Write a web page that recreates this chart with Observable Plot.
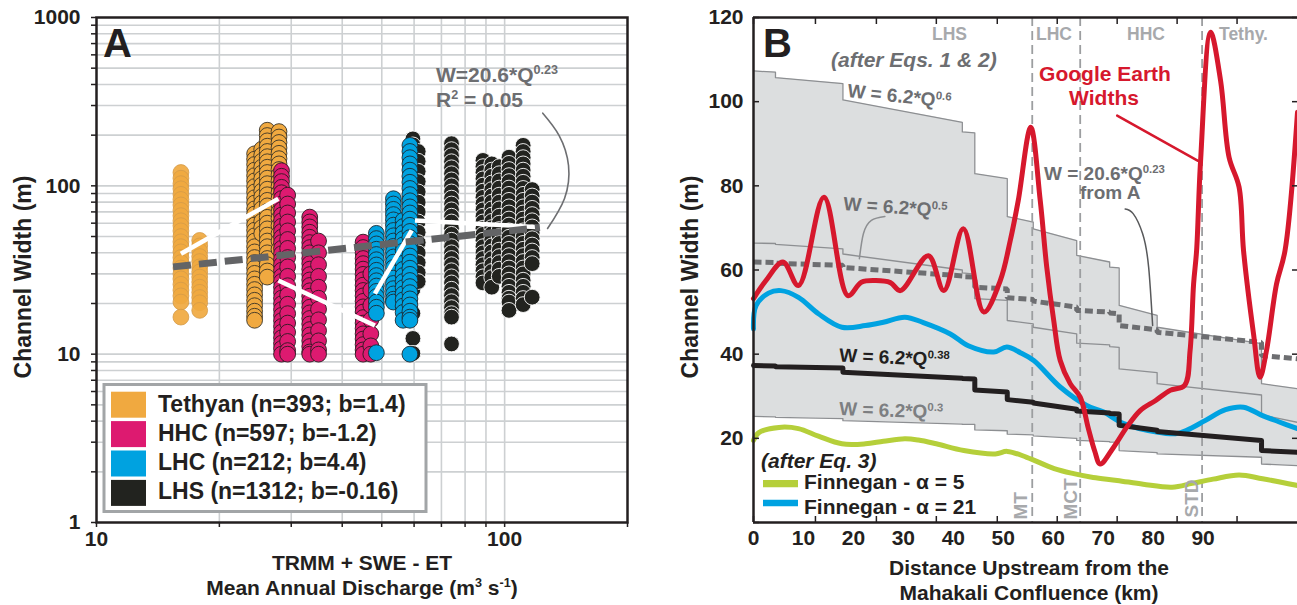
<!DOCTYPE html>
<html><head><meta charset="utf-8">
<script src="https://cdn.jsdelivr.net/npm/d3@7"></script>
<script src="https://cdn.jsdelivr.net/npm/@observablehq/plot@0.6"></script>
<style>
html,body{margin:0;padding:0;background:#fff;}
#wrap{position:relative;width:1297px;height:605px;overflow:hidden;background:#fff;}
#wrap > svg{position:absolute;top:0;margin:0;}
</style></head>
<body><div id="wrap"></div>
<script>
const FONT = '"Liberation Sans", Arial, Helvetica, sans-serif';
const INK = "#231f20";

// ================= Panel A data =================
const groupNames = ["Tethyan", "HHC", "LHC", "LHS"];
const groupN = [393, 597, 212, 1312];
const groupB = ["1.4", "-1.2", "4.4", "-0.16"];
const groupColors = ["#f0a940", "#dd1a70", "#00a2e0", "#22231f"];

// columns: [discharge Q (m3/s), [channel widths W (m)]]
const tethyanPaleCols = [
  [16.1, [120, 111, 103, 96, 89, 83, 77, 71.5, 66.5, 62, 58, 54, 50, 46.5, 43.5, 40.5, 37.5, 35, 32.5, 30, 28, 26, 24, 22.2, 20.4, 16.6]],
  [17.9, [47.4, 44, 41, 38, 35.5, 33, 30.8, 28.7, 26.8, 25, 23.3, 21.7, 20.2, 18.2]]
];
const tethyanCols = [
  [24.4, [155, 144, 134, 124, 115, 107, 99, 92, 85, 79, 73, 68, 63, 58.5, 54.5, 50.5, 47, 43.5, 40.5, 37.5, 35, 32.5, 30.2, 28, 26, 24.2, 22.5, 20.9, 19.4, 18, 16.8, 15.9]],
  [25.4, [165, 152, 140, 129, 119, 110, 101, 93, 86, 79, 73, 67, 61.5, 56.5, 52]],
  [26.2, [214, 199, 185, 172, 160, 149, 139, 129, 120, 111, 103, 95.5, 88.5, 82, 76, 70.5, 65, 60, 55.5, 51, 47, 43.5, 40, 37, 34, 31.2, 28.7]],
  [28.0, [210, 195, 181, 168, 156, 145, 135, 125, 116, 107, 99, 91, 84, 77, 70, 64, 58, 52, 47, 42]]
];
const hhcCols = [
  [28.4, [123, 114, 106, 98, 91, 84, 78, 72, 67, 62, 57.5, 53.5, 49.5, 46, 42.5, 39.5, 36.5, 34, 31.5, 29, 27, 25, 23.2, 21.5, 19.9, 18.4, 17, 15.8, 14.6, 13.5, 12.5, 11.6, 10.8, 10]],
  [29.4, [88, 78, 69, 61, 54, 48, 42.5, 37.5, 33, 29, 25.5, 22.5, 19.8, 17.4, 15.3, 13.5, 11.9, 10.5, 10]],
  [33.3, [65.2, 61, 57, 53, 49.5, 46, 43, 40, 37, 34.5, 32, 29.7, 27.6, 25.6, 23.8, 22.1, 20.5, 19, 17.6, 16.3, 15.1, 14, 13, 12, 11.1, 10.3, 10]],
  [35.0, [47, 40, 34, 29, 25, 21.5, 18.5, 16, 13.8, 12, 10.6, 10]],
  [45.0, [46.3, 43, 40, 37, 34.5, 32, 29.8, 27.7, 25.7, 23.9, 22.2, 20.6, 19.1, 17.8, 16.5, 15.3, 14.2, 13.2, 12.3, 11.4, 10.6, 10]],
  [47.0, [30, 24, 19.5, 16, 13.2, 11.2, 10]]
];
const lhcCols = [
  [48.5, [52.2, 48.6, 45.2, 42, 39.1, 36.4, 33.9, 31.5, 29.3, 27.3, 25.4, 23.6, 22, 20.4, 19, 17.5, 10.2]],
  [53.4, [83.8, 78, 72.5, 67.5, 62.8, 58.4, 54.3, 50.5, 47, 43.7, 40.6, 37.8, 35.2, 32.7, 30.4, 28.3, 26.3, 24.5, 22.8, 21.2, 20.4]],
  [56.4, [62.3, 57.3, 52.7, 48.5, 44.6, 41, 37.7, 34.7, 31.9, 29.3, 27, 24.8, 22.8, 21, 19.3, 17.7, 15.9]],
  [58.6, [174, 160, 147, 135, 124, 114, 105, 96.5, 88.7, 81.5, 75, 69, 63.4, 58.3, 53.6, 49.3, 45.3, 41.7, 38.3, 35.2, 32.4, 29.8, 27.4, 25.2, 23.2, 21.3, 19.6, 18, 16.6, 15.9, 10]]
];
const lhsCols = [
  [59.6, [190, 175, 161, 148, 136, 125, 115, 106, 98, 90, 83, 76, 70, 64.5, 59.5, 55, 50.5, 46.5, 43, 39.5, 36.5, 33.5, 31, 28.5, 26.3, 24.2, 17.5, 12.4, 10.1]],
  [61.4, [160, 140, 122, 106, 92, 80, 70, 61, 53, 46, 40, 35, 30.5, 27]],
  [74.1, [178, 164, 151, 139, 128, 118, 108.5, 100, 92, 84.5, 78, 72, 66, 61, 56, 51.5, 47.5, 43.5, 40, 37, 34, 31.3, 28.8, 26.5, 24.3, 22.3, 20.5, 18.9, 17.4, 16.6, 11.5]],
  [88.5, [141.6, 130, 120, 110, 101, 93, 85.5, 78.5, 72, 66, 61, 56, 51.5, 47.5, 43.5, 40, 37, 34, 31.3, 28.8, 26.5]],
  [93.0, [135, 124, 114, 104, 95, 87, 80, 73, 67, 61.5, 56.5, 52, 48, 44, 40.5, 37, 34, 31, 28.5, 25]],
  [97.0, [130, 118, 107, 97, 88, 80, 73, 66, 60, 55, 50, 45.5, 41.5, 38, 35, 32, 29]],
  [102.5, [148, 136, 125, 115, 106, 97, 89, 82, 75, 69, 63.5, 58.5, 54, 49.5, 45.5, 42, 38.5, 35.5, 32.5, 30, 27.5, 25.3, 23.3, 21.5, 20.4, 18.2]],
  [111.0, [174, 160, 147, 135, 124, 114, 105, 96.5, 89, 82, 75, 69, 63.5, 58.5, 54, 49.5, 45.5, 42, 38.5, 35.5, 32.5, 30, 27.5, 25.3, 23.3, 21.4, 19.7]],
  [116.8, [95, 87, 80, 73.5, 67.5, 62, 57, 52.5, 48.5, 44.5, 41, 37.5, 34.5, 21.8]]
];

// per-group power-law trends (white lines)
const trendQ1 = [16.1, 27.9, 48.1, 60.3];
const trendW1 = [39.5, 27.4, 22.9, 62.3];
const trendQ2 = [27.9, 48.1, 59.2, 121.8];
const trendW2 = [83.8, 14.8, 54.3, 56.8];
// all-data fit W=20.6*Q^0.23 (dashed)
const fitQ = [15.4, 122];
const fitW = [33, 56.5];
// annotation arc
const arcQ = [124, 136, 143.4, 140.2, 127.4];
const arcW = [270, 199, 132, 84.2, 55.8];

const xTicksA = [10, 20, 30, 40, 50, 60, 70, 80, 90, 100, 200];
const xLabelsA = [10, 100];
const xGridA = [20, 30, 40, 50, 60, 70, 80, 90, 100];
const yTicksA = [1,2,3,4,5,6,7,8,9,10,20,30,40,50,60,70,80,90,100,200,300,400,500,600,700,800,900,1000];
const yLabelsA = [1, 10, 100, 1000];
const yGridA = [2,3,4,5,6,7,8,9,10,20,30,40,50,60,70,80,90,100,200,300,400,500,600,700,800,900];

// ================= Panel B data =================
const stepKm = [0, 4.4, 17.9, 41.8, 44.3, 50.8, 56.0, 64.7, 71.3, 73.2, 80.8, 101.7, 108.9];
// [W at segment start, W at segment end]
const w06 = [[107.3,107.0],[105.7,104.3],[100.4,95.1],[92.8,92.6],[82.9,81.7],[72.7,71.4],[69.8,67.0],[63.5,61.9],[60.7,60.5],[51.6,49.2],[46.4,42.5],[33.0,31.8]];
const w05 = [[66.4,66.3],[66.1,65.0],[63.8,60.0],[59.3,59.0],[53.2,52.8],[48.0,47.2],[46.4,44.8],[42.6,42.2],[41.8,41.6],[36.5,35.6],[33.0,30.3],[25.6,23.8]];
const w038 = [[37.3,37.2],[37.0,36.7],[35.7,34.3],[34.2,34.1],[31.5,31.0],[29.2,28.6],[28.4,26.9],[26.5,26.0],[25.9,25.8],[23.1,21.9],[21.6,19.5],[17.1,16.7]];
const w03 = [[25.2,25.1],[25.0,24.7],[24.2,23.4],[23.3,23.3],[22.0,21.8],[21.0,20.8],[20.6,20.0],[19.5,19.2],[19.1,19.1],[17.1,16.6],[16.3,15.5],[13.9,13.5]];
const w023 = [[61.9,61.8],[61.6,61.1],[60.6,58.6],[58.4,58.3],[55.9,55.5],[53.4,53.0],[52.6,51.2],[50.4,50.0],[49.8,49.6],[46.8,45.8],[45.2,42.8],[39.7,38.9]];

const geKm = [0, 2.5, 5.9, 9.0, 14.1, 18.9, 21.6, 24.5, 27.4, 29.4, 35.0, 38.1, 42.0, 46.1, 49.4, 51.4, 53.0, 55.5, 57.4, 58.7, 60.1, 61.4, 63.4, 65.4, 67.0, 68.3, 69.4, 72.1, 74.7, 77.4, 80.5, 83.4, 86.3, 87.4, 88.1, 88.7, 89.5, 91.5, 93.5, 95.2, 97.2, 98.1, 100.1, 101.4, 102.7, 104.7, 106.4, 108.9];
const geW  = [53.2, 57.5, 61.9, 56.3, 77.3, 53.9, 57.1, 57.5, 57.0, 55.1, 63.4, 55.1, 69.8, 50.0, 57.5, 67.0, 76.5, 93.9, 76.5, 60.7, 48.0, 38.5, 33.0, 29.8, 22.5, 17.0, 13.9, 17.9, 22.6, 26.6, 29.0, 31.4, 32.6, 40.9, 56.7, 64.6, 86.0, 116.5, 105.0, 86.8, 79.7, 64.6, 44.8, 34.5, 40.9, 56.7, 64.6, 97.5];

const f21Km = [0, 0.5, 3, 5.5, 9, 13, 17.7, 22.4, 26, 30.3, 34, 39.4, 43, 48.1, 50.7, 53.5, 56.1, 61.4, 66.7, 70, 74.1, 80.7, 84.5, 86.7, 90.4, 94.5, 98.1, 101.9, 105, 108.9];
const f21W  = [46, 51.5, 54.5, 55.1, 53.5, 49.6, 46.4, 46.8, 47.6, 48.8, 47.5, 44.8, 42.0, 40.5, 41.7, 40.3, 38.5, 32.2, 27.8, 26.3, 23.5, 21.5, 21.1, 21.9, 24.2, 26.8, 27.4, 25.4, 24.0, 22.3];

const f5Km = [0, 1, 5.1, 9, 13, 17.7, 22.4, 26, 30.3, 33, 36.6, 42.1, 48.4, 50.8, 54.7, 60.2, 64.1, 68, 72.8, 78, 83.8, 87.8, 92, 97.2, 101.9, 108.9];
const f5W  = [19.5, 21.3, 22.6, 22.3, 20.5, 18.7, 18.7, 19.3, 19.9, 19.6, 18.7, 17.1, 16.3, 16.9, 15.5, 12.8, 11.6, 10.7, 10.0, 9.1, 8.4, 9.3, 10.3, 11.3, 10.4, 8.8];

const faultKm = [55.8, 65.4, 89.8];
const faultNames = ["MT", "MCT", "STD"];
const zoneNames = ["LHS", "LHC", "HHC", "Tethy."];

const lead05Km = [26.3, 23.6, 22.0, 21.2];
const lead05W  = [72.7, 71.8, 68.6, 62.7];
const lead023Km = [74.4, 76.0, 77.9, 79.1, 79.9];
const lead023W  = [74.5, 73.4, 68.6, 60.7, 46.8];
const leadGeKm = [72.8, 88.9];
const leadGeW  = [96.7, 86.0];

const xLabelsB = [0, 10, 20, 30, 40, 50, 60, 70, 80, 90];
const xTickMarksB = [0, 12.4, 24.6, 36.6, 48.8, 60.8, 72.8, 84.8, 96.8];
const yLabelsB = [20, 40, 60, 80, 100, 120];

// ================= helpers =================
const flat = cols => cols.flatMap(([q, ws]) => ws.map(w => ({q, w})));
const zip = (xs, ys, kx, ky) => xs.map((v, i) => ({[kx]: v, [ky]: ys[i]}));
const stepPts = segs => segs.flatMap(([a, b], i) => [{km: stepKm[i], w: a}, {km: stepKm[i + 1], w: b}]);
const band = w06.flatMap(([a, b], i) => [
  {km: stepKm[i], hi: a, lo: w03[i][0]},
  {km: stepKm[i + 1], hi: b, lo: w03[i][1]}
]);
const trends = trendQ1.map((q, i) => ({q1: q, w1: trendW1[i], q2: trendQ2[i], w2: trendW2[i]}));
const fit = [{q1: fitQ[0], w1: fitW[0], q2: fitQ[1], w2: fitW[1]}];
const styleBase = {fontFamily: FONT, fontSize: "21px", fontWeight: "bold", color: INK, background: "transparent", overflow: "visible"};
const dotOpt = (fill, stroke, sw, fo = 1) => ({x: "q", y: "w", r: 7.9, fill, stroke, strokeWidth: sw, fillOpacity: fo});

// ================= Panel A =================
const plotA = Plot.plot({
  width: 650, height: 605,
  marginLeft: 96, marginRight: 23, marginTop: 17, marginBottom: 83,
  x: {type: "log", domain: [10, 200], label: null},
  y: {type: "log", domain: [1, 1000], label: null},
  style: styleBase,
  marks: [
    Plot.gridX(xGridA, {stroke: "#cdd0d2", strokeOpacity: 1, strokeWidth: 1.6}),
    Plot.gridY(yGridA, {stroke: "#cdd0d2", strokeOpacity: 1, strokeWidth: 1.6}),
    Plot.dot(flat(lhsCols), dotOpt(groupColors[3], "#ffffff", 0.9)),
    Plot.dot(flat(tethyanPaleCols), dotOpt(groupColors[0], "#d49a48", 0.8, 0.92)),
    Plot.dot(flat(tethyanCols), dotOpt(groupColors[0], "#3a3326", 0.9)),
    Plot.dot(flat(hhcCols), dotOpt(groupColors[1], "#2a1a20", 0.9)),
    Plot.dot(flat(lhcCols), dotOpt(groupColors[2], "#1c2a33", 0.9)),
    Plot.link(trends, {x1: "q1", y1: "w1", x2: "q2", y2: "w2", stroke: "#ffffff", strokeWidth: 4.5, strokeLinecap: "butt"}),
    Plot.link(fit, {x1: "q1", y1: "w1", x2: "q2", y2: "w2", stroke: "#636466", strokeWidth: 7, strokeDasharray: "18,8", strokeLinecap: "butt"}),
    Plot.line(zip(arcQ, arcW, "q", "w"), {x: "q", y: "w", curve: "natural", stroke: "#6d6e71", strokeWidth: 1.6}),
    Plot.frame({stroke: INK, strokeWidth: 2.5}),
    Plot.axisX(xTicksA, {tickSize: 5, tickPadding: 4, strokeWidth: 1.5, tickFormat: d => xLabelsA.includes(d) ? String(d) : "", label: null}),
    Plot.axisY(yTicksA, {tickSize: 5, tickPadding: 11, strokeWidth: 1.5, tickFormat: d => yLabelsA.includes(d) ? String(d) : "", label: null})
  ]
});
plotA.style.left = "0px";
document.getElementById("wrap").appendChild(plotA);

// ================= Panel B =================
const plotB = Plot.plot({
  width: 647, height: 605,
  marginLeft: 103, marginRight: 0, marginTop: 17, marginBottom: 83,
  x: {domain: [0, 108.9], label: null},
  y: {domain: [0, 120], label: null},
  style: styleBase,
  marks: [
    Plot.areaY(band, {x: "km", y1: "lo", y2: "hi", fill: "#dcdedf"}),
    Plot.line(stepPts(w06), {x: "km", y: "w", stroke: "#8d8f92", strokeWidth: 1.3}),
    Plot.line(stepPts(w05), {x: "km", y: "w", stroke: "#8d8f92", strokeWidth: 1.3}),
    Plot.line(stepPts(w03), {x: "km", y: "w", stroke: "#8d8f92", strokeWidth: 1.3}),
    Plot.ruleX(faultKm, {stroke: "#9c9ea0", strokeWidth: 1.8, strokeDasharray: "9,5", strokeLinecap: "butt"}),
    Plot.line(zip(lead05Km, lead05W, "km", "w"), {x: "km", y: "w", curve: "natural", stroke: "#8d8f92", strokeWidth: 1.5}),
    Plot.line(zip(lead023Km, lead023W, "km", "w"), {x: "km", y: "w", curve: "natural", stroke: "#58595b", strokeWidth: 1.5}),
    Plot.line(stepPts(w023), {x: "km", y: "w", stroke: "#6d6e71", strokeWidth: 5, strokeDasharray: "8,4", strokeLinecap: "butt", strokeLinejoin: "miter"}),
    Plot.line(zip(f5Km, f5W, "km", "w"), {x: "km", y: "w", curve: "catmull-rom", stroke: "#b5cf3a", strokeWidth: 5}),
    Plot.line(zip(f21Km, f21W, "km", "w"), {x: "km", y: "w", curve: "catmull-rom", stroke: "#00a2e1", strokeWidth: 5}),
    Plot.line(stepPts(w038), {x: "km", y: "w", stroke: INK, strokeWidth: 5}),
    Plot.line(zip(leadGeKm, leadGeW, "km", "w"), {x: "km", y: "w", stroke: "#d6182d", strokeWidth: 2.5}),
    Plot.line(zip(geKm, geW, "km", "w"), {x: "km", y: "w", curve: "catmull-rom", stroke: "#d6182d", strokeWidth: 5}),
    Plot.ruleX([0], {stroke: INK, strokeWidth: 2.5}),
    Plot.ruleY([0, 120], {stroke: INK, strokeWidth: 2.5}),
    Plot.axisY(yLabelsB, {anchor: "left", tickSize: 0, tickPadding: 10, label: null}),
    Plot.axisY([0, ...yLabelsB], {anchor: "left", tickSize: -6, strokeWidth: 1.5, tickFormat: () => "", label: null}),
    Plot.axisY(yLabelsB, {anchor: "right", tickSize: -6, strokeWidth: 1.5, tickFormat: () => "", label: null}),
    Plot.axisX(xLabelsB, {anchor: "bottom", tickSize: 0, tickPadding: 8, label: null}),
    Plot.axisX(xTickMarksB, {anchor: "bottom", tickSize: -6, strokeWidth: 1.5, tickFormat: () => "", label: null}),
    Plot.axisX(xTickMarksB, {anchor: "top", tickSize: -6, strokeWidth: 1.5, tickFormat: () => "", label: null})
  ]
});
plotB.style.left = "650px";
document.getElementById("wrap").appendChild(plotB);

// ================= Text overlay =================
const ov = d3.select("#wrap").append("svg")
  .attr("width", 1297).attr("height", 605)
  .style("position", "absolute").style("left", "0px").style("top", "0px").style("pointer-events", "none")
  .attr("font-family", FONT).attr("font-weight", "bold").style("white-space", "pre");

function addText(x, y, parts, {size = 21, fill = INK, anchor = "start", rotate = 0, italic = false} = {}) {
  const t = ov.append("text")
    .attr("transform", `translate(${x},${y}) rotate(${rotate})`)
    .attr("font-size", size).attr("fill", fill).attr("text-anchor", anchor);
  if (italic) t.attr("font-style", "italic");
  let raised = false;
  for (const p of parts) {
    const [s, sup] = Array.isArray(p) ? p : [p, false];
    const ts = t.append("tspan").text(s);
    if (sup) {
      ts.attr("font-size", size * 0.6);
      if (!raised) { ts.attr("dy", -size * 0.38); raised = true; }
    } else if (raised) { ts.attr("dy", size * 0.38); raised = false; }
  }
  return t;
}
const GRAY = "#6d6e71", LIGHT = "#a7a9ac", RED = "#d6182d";

// Panel A texts
addText(103, 57, ["A"], {size: 40});
addText(436, 82, ["W=20.6*Q", ["0.23", 1]], {fill: GRAY});
addText(436, 107, ["R", ["2", 1], " = 0.05"], {fill: GRAY});
addText(31, 277, ["Channel Width (m)"], {size: 23, anchor: "middle", rotate: -90});
addText(362, 570, ["TRMM + SWE - ET"], {anchor: "middle"});
addText(362, 595, ["Mean Annual Discharge (m", ["3", 1], " s", ["-1", 1], ")"], {anchor: "middle"});
ov.append("rect").attr("x", 104).attr("y", 384.5).attr("width", 322).attr("height", 127)
  .attr("fill", "#fff").attr("stroke", "#a2a5a7").attr("stroke-width", 3);
groupNames.forEach((g, i) => {
  ov.append("rect").attr("x", 111).attr("y", 391.7 + i * 29.4).attr("width", 35).attr("height", 26).attr("fill", groupColors[i]);
  addText(158, 411.7 + i * 29.2, [`${g} (n=${groupN[i]}; b=${groupB[i]})`], {size: 23});
});

// Panel B texts
addText(763, 57, ["B"], {size: 40});
addText(831, 66.5, ["(after Eqs. 1 & 2)"], {fill: GRAY, italic: true});
[932, 1036, 1127, 1219].forEach((x, i) => addText(x, 39.5, [zoneNames[i]], {size: 17.5, fill: LIGHT}));
addText(847, 97, ["W = 6.2*Q", ["0.6", 1]], {size: 19, fill: GRAY, rotate: 6});
addText(843, 210, ["W = 6.2*Q", ["0.5", 1]], {size: 19, fill: GRAY, rotate: 4});
addText(839, 361.5, ["W = 6.2*Q", ["0.38", 1]], {size: 19, fill: INK, rotate: 2.5});
addText(839, 415, ["W = 6.2*Q", ["0.3", 1]], {size: 19, fill: "#7d7f82", rotate: 2});
addText(1044, 180, ["W = 20.6*Q", ["0.23", 1]], {size: 19, fill: GRAY});
addText(1080, 199, ["from A"], {size: 19, fill: GRAY});
addText(1105, 81, ["Google Earth"], {fill: RED, anchor: "middle"});
addText(1104, 105, ["Widths"], {fill: RED, anchor: "middle"});
addText(761, 467.5, ["(after Eq. 3)"], {italic: true});
ov.append("line").attr("x1", 763).attr("x2", 798).attr("y1", 483.7).attr("y2", 483.7).attr("stroke", "#b5cf3a").attr("stroke-width", 7.3);
ov.append("line").attr("x1", 763).attr("x2", 798).attr("y1", 503).attr("y2", 503).attr("stroke", "#00a2e1").attr("stroke-width", 6.5);
addText(804, 488.5, ["Finnegan - α = 5"]);
addText(804, 513.5, ["Finnegan - α = 21"]);
[[1027, 519.5], [1077, 519.5], [1198, 517.5]].forEach(([x, y], i) =>
  addText(x, y, [faultNames[i]], {size: 19, fill: LIGHT, rotate: -90}));
addText(697.5, 277, ["Channel Width (m)"], {size: 23, anchor: "middle", rotate: -90});
addText(1029, 575, ["Distance Upstream from the"], {anchor: "middle"});
addText(1029, 600, ["Mahakali Confluence (km)"], {anchor: "middle"});
</script></body></html>
